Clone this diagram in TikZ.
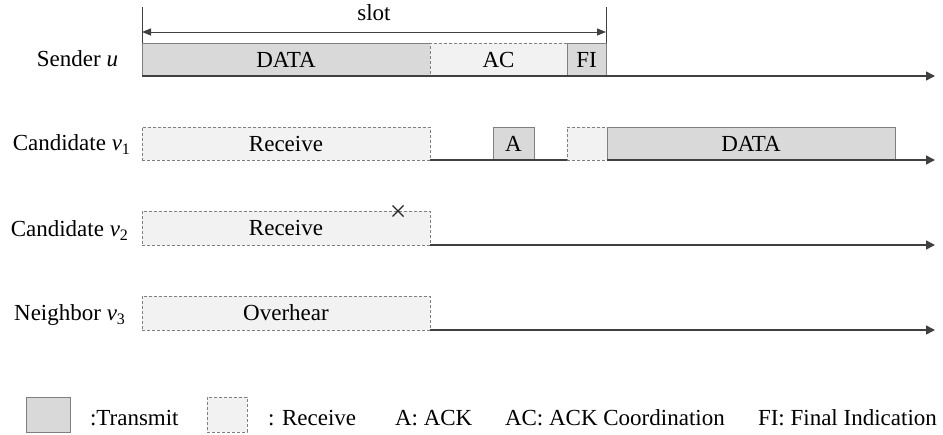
\documentclass[tikz,border=0pt]{standalone}
\usepackage{fontspec}
\setmainfont{Liberation Serif}
\usetikzlibrary{arrows.meta,shapes.misc}
\definecolor{txfill}{HTML}{D9D9D9}
\definecolor{rxfill}{HTML}{F2F2F2}
\definecolor{edgegray}{HTML}{7F7F7F}
\definecolor{axisgray}{HTML}{404040}

\begin{document}
\begin{tikzpicture}[x=1pt,y=-1pt,
  every node/.style={font=\fontsize{23}{27}\selectfont, inner sep=0pt, outer sep=0pt},
  txbox/.style={draw=edgegray, fill=txfill, line width=1pt, anchor=south west, minimum height=33pt},
  rxbox/.style={draw=edgegray, fill=rxfill, line width=1pt, dash pattern=on 3pt off 2pt, anchor=south west, minimum height=33pt},
  timeline/.style={draw=axisgray, line width=1.5pt},
  timearrow/.style={timeline, -{Triangle[length=9pt,width=9pt]}},
  rowlabel/.style={anchor=base east},
  legendtext/.style={anchor=base west},
]
\useasboundingbox (0,0) rectangle (943,434);

% slot dimension
\coordinate (t0a) at (142,7);  \coordinate (t0b) at (142,43);
\coordinate (t1a) at (606,7);  \coordinate (t1b) at (606,43);
\draw[axisgray, line width=1pt] (t0a) -- (t0b);
\draw[axisgray, line width=1pt] (t1a) -- (t1b);
\coordinate (sl0) at (142,32); \coordinate (sl1) at (606,32);
\draw[axisgray, line width=1pt, {Triangle[length=9pt,width=7pt]}-{Triangle[length=9pt,width=7pt]}] (sl0) -- (sl1);
\node (slot) at (374,13) {slot};

% sender u
\node[rowlabel] (lu) at (118,66) {Sender \textit{u}};
\node[txbox, minimum width=288pt] (u1) at (142,76) {DATA};
\node[rxbox, minimum width=137pt] (u2) at (430,76) {AC};
\node[txbox, minimum width=39pt] (u3) at (567,76) {FI};
\coordinate (ue) at (935,76);
\draw[timearrow] (u1.south west) -- (ue);

% candidate v1
\node[rowlabel] (lv1) at (130,150) {Candidate \textit{v}\raisebox{-0.2em}{\fontsize{16}{16}\selectfont 1}};
\node[rxbox, minimum width=288pt] (a1) at (142,160) {Receive};
\node[txbox, minimum width=41pt] (a2) at (493,160) {A};
\node[rxbox, minimum width=40pt] (a3) at (567,160) {};
\node[txbox, minimum width=288pt] (a4) at (607,160) {DATA};
\coordinate (ae) at (935,160);
\draw[timeline] (a1.south east) -- (a3.south west);
\draw[timearrow] (a4.south west) -- (ae);

% candidate v2
\node[rowlabel] (lv2) at (128,236) {Candidate \textit{v}\raisebox{-0.2em}{\fontsize{16}{16}\selectfont 2}};
\node[rxbox, minimum width=288pt, minimum height=34pt] (b1) at (142,245) {Receive};
\node[draw=black!85, cross out, line width=1.3pt, minimum size=11pt] (lost) at (398,211) {};
\coordinate (be) at (935,245);
\draw[timearrow] (b1.south east) -- (be);

% neighbor v3
\node[rowlabel] (lv3) at (125,320) {Neighbor \textit{v}\raisebox{-0.2em}{\fontsize{16}{16}\selectfont 3}};
\node[rxbox, minimum width=288pt, minimum height=34pt] (c1) at (142,330) {Overhear};
\coordinate (ce) at (935,330);
\draw[timearrow] (c1.south east) -- (ce);

% legend
\node[txbox, anchor=north west, minimum width=44pt, minimum height=35pt] (kt) at (26,397) {};
\node[legendtext] (ktt) at (90,425) {:Transmit};
\node[rxbox, anchor=north west, minimum width=40pt, minimum height=35pt] (kr) at (207,397) {};
\node[legendtext] (krt) at (268,425) {: Receive};
\node[legendtext] (ka) at (395,425) {A: ACK};
\node[legendtext] (kac) at (505,425) {AC: ACK Coordination};
\node[legendtext] (kfi) at (758,425) {FI: Final Indication};
\end{tikzpicture}
\end{document}
